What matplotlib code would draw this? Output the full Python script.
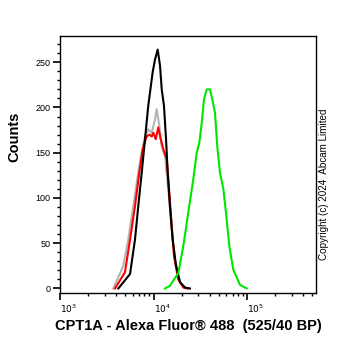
import matplotlib
matplotlib.use("Agg")
import matplotlib.pyplot as plt
import numpy as np
from matplotlib.ticker import FixedLocator, NullFormatter

plt.rcParams['font.family'] = ['Liberation Sans', 'DejaVu Sans']

# log10 intensity and counts
black_x = [3.624, 3.749, 3.802, 3.837, 3.874, 3.909, 3.944, 3.991, 4.016, 4.045, 4.070, 4.088,
           4.112, 4.134, 4.152, 4.176, 4.205, 4.241, 4.283, 4.337, 4.390]
black_y = [0, 16, 54, 91, 128, 165, 202, 239, 253, 264, 246, 220, 202, 165, 128, 91, 54, 25, 7, 1, 0]

grey_x = [3.570, 3.677, 3.730, 3.784, 3.837, 3.874, 3.909, 3.944, 3.981, 4.016, 4.034, 4.062,
          4.088, 4.123, 4.158, 4.195, 4.230, 4.283, 4.348]
grey_y = [0, 25, 54, 91, 128, 150, 168, 176, 172, 187, 198, 180, 157, 146, 110, 65, 32, 7, 0]

red_x = [3.588, 3.695, 3.749, 3.802, 3.848, 3.884, 3.927, 3.955, 3.981, 3.998, 4.024, 4.051,
         4.077, 4.105, 4.141, 4.166, 4.195, 4.219, 4.265, 4.319, 4.369]
red_y = [0, 18, 54, 91, 128, 154, 168, 170, 168, 172, 165, 178, 165, 154, 143, 110, 69, 36, 10, 1, 0]

green_x = [4.123, 4.176, 4.265, 4.319, 4.372, 4.426, 4.462, 4.490, 4.516, 4.540, 4.569, 4.604,
           4.629, 4.658, 4.682, 4.711, 4.747, 4.775, 4.811, 4.853, 4.925, 4.997]
green_y = [0, 3, 17, 47, 84, 121, 150, 161, 183, 209, 220, 220, 209, 194, 157, 128, 110, 84, 47, 21, 4, 0]

fig = plt.figure(figsize=(3.62, 3.51), dpi=100)
ax = fig.add_axes([60/362, 1-293/351, (316-60)/362, (293-36)/351])

for xs, ys, c in [(grey_x, grey_y, '#b4b4b4'), (red_x, red_y, '#ff0000'),
                  (black_x, black_y, '#000000'), (green_x, green_y, '#00e600')]:
    ax.plot(10**np.array(xs), ys, color=c, lw=1.5)

ax.set_xscale('log')
ax.set_xlim(1e3, 10**(3 + 256/93.5))
ax.set_ylim(-5, 279)

ax.set_xticks([1e3, 1e4, 1e5])
ax.set_xticklabels([r'$10^3$', r'$10^4$', r'$10^5$'], fontsize=6.5, ha='left')
minors = [m*10**d for d in range(3, 6) for m in range(2, 10)]
ax.xaxis.set_minor_locator(FixedLocator(minors))
ax.xaxis.set_minor_formatter(NullFormatter())

ax.set_yticks([0, 50, 100, 150, 200, 250])
ax.set_yticklabels(['0', '50', '100', '150', '200', '250'], fontsize=6.5)
ax.yaxis.set_minor_locator(FixedLocator(list(range(0, 280, 10))))

ax.tick_params(axis='both', which='major', direction='out', length=5, width=1.2, pad=2)
ax.tick_params(axis='both', which='minor', direction='out', length=2.5, width=1)
ax.tick_params(top=False, right=False)
for s in ax.spines.values():
    s.set_linewidth(1.0)

ax.set_xlabel('CPT1A - Alexa Fluor® 488  (525/40 BP)', fontsize=10.5, fontweight='bold', labelpad=3)
ax.set_ylabel('Counts', fontsize=10.5, fontweight='bold')
ax.yaxis.set_label_coords((21 - 60) / 256, (293 - 137) / 257)

fig.text(324/362, 1-184/351, 'Copyright (c) 2024  Abcam Limited', rotation=90,
         fontsize=7.1, ha='center', va='center')

fig.savefig('out.png', dpi=100)
